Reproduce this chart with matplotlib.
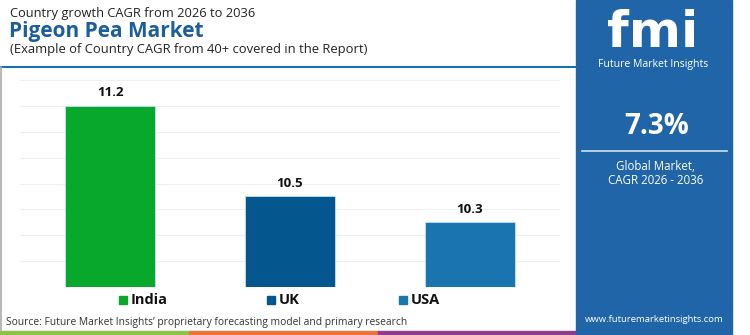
import matplotlib
matplotlib.use("Agg")
import matplotlib.pyplot as plt
from matplotlib.patches import Rectangle
import numpy as np

countries = ["India", "UK", "USA"]
cagr = [11.2, 10.5, 10.3]
bar_colors = ["#07A82C", "#04568E", "#1A74B0"]
gridlines = [9.8, 10.0, 10.2, 10.4, 10.6, 10.8, 11.0, 11.2, 11.4]
global_cagr = "7.3%"

W, H = 750, 335
plt.rcParams["font.family"] = ["Open Sans", "DejaVu Sans"]
fig = plt.figure(figsize=(W / 100, H / 100), dpi=100)
fig.patch.set_facecolor("white")


def fx(px):
    return px / W


def fy(py):
    return 1 - py / H


# header
fig.text(fx(10), fy(14), "Country growth CAGR from 2026 to 2036", fontsize=9.3,
         color="#222222", va="center", ha="left")
fig.text(fx(9), fy(32), "Pigeon Pea Market", fontsize=15, fontweight="bold",
         color="#1B5E9E", va="center", ha="left")
fig.text(fx(10), fy(50), "(Example of Country CAGR from 40+ covered in the Report)",
         fontsize=9.4, color="#222222", va="center", ha="left")
fig.add_artist(plt.Line2D([0, fx(577)], [fy(67), fy(67)], color="#1B6FAE", lw=1.5))
fig.add_artist(plt.Line2D([fx(1), fx(1)], [fy(67), fy(330)], color="#AAAAAA", lw=1.2))

# bar chart
ax = fig.add_axes([fx(20), fy(287), fx(560) - fx(20), fy(80) - fy(287)])
x = np.arange(len(countries))
bars = ax.bar(x, cagr, width=0.5, color=bar_colors, edgecolor="#BFE3F5",
              linewidth=0.6, zorder=3)
ax.set_xlim(-0.5, 2.5)
ax.set_ylim(gridlines[0], gridlines[-1])
for g in gridlines:
    ax.axhline(g, color="#F0F0F0", lw=0.8, zorder=1)
for xi, v in zip(x, cagr):
    ax.text(xi, v + 0.1, f"{v}", ha="center", va="center", fontsize=9.5,
            fontweight="bold", color="#111111")
ax.set_xticks([])
ax.set_yticks([])
for s in ax.spines.values():
    s.set_visible(False)

# legend
legend_pos = [119, 267, 399]
for px, name, col in zip(legend_pos, countries, bar_colors):
    fig.add_artist(Rectangle((fx(px), fy(304)), fx(8), 8 / H, color=col))
    fig.text(fx(px + 12), fy(300), name, fontsize=10.5, fontweight="bold",
             color="#111111", va="center", ha="left")

# source line
fig.text(fx(6), fy(323), "Source: Future Market Insights\u2019 proprietary forecasting model and primary research",
         fontsize=7.4, color="#333333", va="center", ha="left")

# bottom color strip
for x0, x1, col in [(0, 189, "#8BC34A"), (189, 378, "#E8743B"), (378, 575, "#8E3A8E")]:
    fig.add_artist(Rectangle((fx(x0), 0), fx(x1 - x0), 4 / H, color=col))

# right panel
fig.add_artist(Rectangle((fx(576), 0), fx(732 - 576), 1, color="#1F65A8"))
fig.text(fx(653), fy(33), "fmi", fontsize=36, fontweight="bold", color="white",
         ha="center", va="center", family=["DejaVu Sans"])
for yy in range(15, 55, 4):
    fig.add_artist(plt.Line2D([fx(598), fx(710)], [fy(yy), fy(yy)], color="#1F65A8", lw=0.9))
fig.text(fx(653), fy(65), "Future Market Insights", fontsize=7.6, color="white",
         ha="center", va="center")
fig.text(fx(657), fy(127), global_cagr, fontsize=20, fontweight="bold", color="white",
         ha="center", va="center")
fig.add_artist(plt.Line2D([fx(582), fx(727)], [fy(151), fy(151)], color="#CFE0F0", lw=1.2))
fig.text(fx(656), fy(166), "Global Market,", fontsize=8.3, color="white",
         ha="center", va="center")
fig.text(fx(656), fy(180), "CAGR 2026 - 2036", fontsize=8.3, color="white",
         ha="center", va="center")
fig.text(fx(654), fy(320), "www.futuremarketinsights.com", fontsize=6.8, color="white",
         ha="center", va="center")

fig.savefig("out.png", dpi=100)
